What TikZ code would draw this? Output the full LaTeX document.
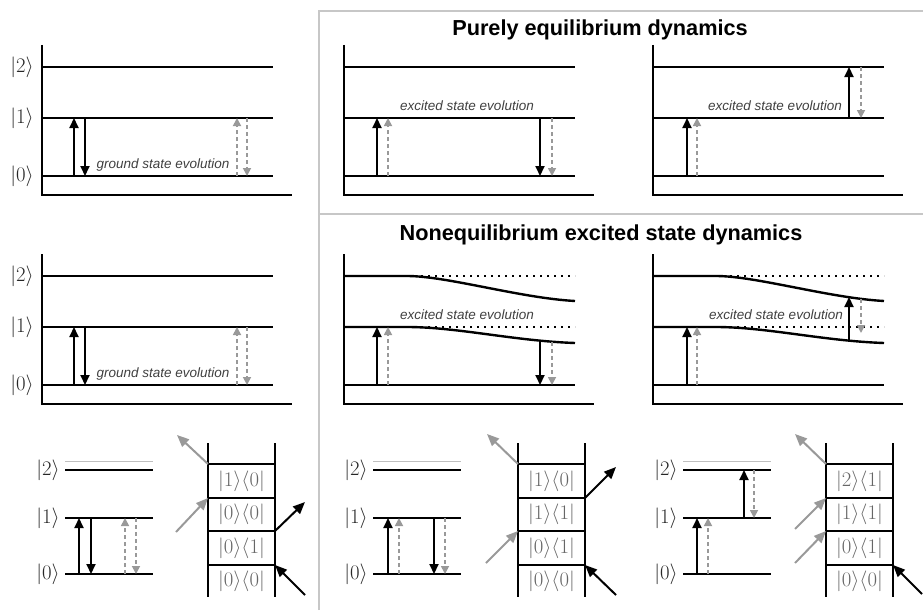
\documentclass[tikz,border=0pt]{standalone}
\usepackage{fontspec}
\setsansfont{Liberation Sans}
\usetikzlibrary{positioning,arrows.meta,calc}

\begin{document}
\begin{tikzpicture}[
    x=1pt, y=-1pt,
    lvl/.style={line width=2.4pt},
    axisline/.style={line width=2.4pt},
    ghostlvl/.style={line width=1pt, draw=black!25},
    oldlvl/.style={line width=2pt, dash pattern=on 2pt off 5pt},
    jump/.style={-{Triangle[length=10pt,width=9pt]}, line width=2pt},
    ghost/.style={-{Triangle[length=8pt,width=8pt]}, line width=1.7pt, draw=black!40, dash pattern=on 4pt off 3pt},
    flow/.style={-{Triangle[length=12pt,width=10pt]}, line width=2pt},
    grflow/.style={flow, draw=black!40},
    rail/.style={line width=2.4pt},
    ket/.style={font=\fontsize{20}{24}\selectfont, text=black!85, anchor=east, inner sep=0pt},
    cell/.style={font=\fontsize{20}{24}\selectfont, text=black!60, inner sep=0pt},
    evo/.style={font=\sffamily\itshape\fontsize{13.5}{16}\selectfont, text=black!75, inner sep=0pt},
    ttl/.style={font=\sffamily\bfseries\fontsize{21.7}{26}\selectfont, inner sep=0pt},
    boxline/.style={draw=black!22, line width=2pt}
]
\useasboundingbox (0,0) rectangle (923,610);

% Frame round the two right-hand rows
\coordinate (fBL) at (319,610);
\coordinate (fTL) at (319,11);
\coordinate (fTR) at (923,11);
\coordinate (fML) at (319,214);
\coordinate (fMR) at (923,214);
\draw[boxline] (fBL) -- (fTL) -- (fTR);
\draw[boxline] (fML) -- (fMR);

% Titles
\node[ttl] (ttlEq) at (600,30) {Purely equilibrium dynamics};
\node[ttl] (ttlNeq) at (601,235) {Nonequilibrium excited state dynamics};

% Axes and ground level, six panels
\foreach \nm/\px/\py in {A/42/0, B/42/209, C/344/0, D/653/0, E/344/209, F/653/209}{
    \coordinate (\nm0) at (\px,176+\py);
    \coordinate (\nm1) at (\px,118+\py);
    \coordinate (\nm2) at (\px,67+\py);
    \draw[axisline] (\px,45+\py) -- (\px,195+\py) -- (\px+250,195+\py);
    \draw[lvl] (\nm0) -- ++(231,0);
}

% Unshifted levels
\foreach \nm in {A,B,C,D}{
    \draw[lvl] (\nm1) -- ++(231,0);
    \draw[lvl] (\nm2) -- ++(231,0);
}

% Shifted levels, old position dotted
\foreach \nm in {E,F}{
    \draw[oldlvl] ([xshift=63pt]\nm2) -- ++(168,0);
    \draw[oldlvl] ([xshift=63pt]\nm1) -- ++(168,0);
    \draw[lvl] (\nm2) -- ++(63,0) .. controls +(40,0) and +(-55,-3) .. ++(168,25);
    \draw[lvl] (\nm1) -- ++(63,0) .. controls +(50,0) and +(-60,-2) .. ++(168,16);
}

% Kets, left column
\foreach \nm in {A,B}
    \foreach \k in {0,1,2}
        \node[ket] (k\nm\k) at ([xshift=-8pt]\nm\k) {$|\k\rangle$};

% Ground state evolution, left column
\foreach \nm/\py in {A/0, B/209}{
    \draw[jump] ([xshift=32pt]\nm0) -- ([xshift=32pt]\nm1);
    \draw[jump] ([xshift=43pt]\nm1) -- ([xshift=43pt]\nm0);
    \draw[ghost] ([xshift=195pt]\nm0) -- ([xshift=195pt]\nm1);
    \draw[ghost] ([xshift=205pt]\nm1) -- ([xshift=205pt]\nm0);
    \node[evo] (evo\nm) at (163,165+\py) {ground state evolution};
}

% Excited state evolution, top row
\draw[jump] ([xshift=33pt]C0) -- ([xshift=33pt]C1);
\draw[ghost] ([xshift=44pt]C0) -- ([xshift=44pt]C1);
\draw[jump] ([xshift=196pt]C1) -- ([xshift=196pt]C0);
\draw[ghost] ([xshift=208pt]C1) -- ([xshift=208pt]C0);
\node[evo] (evoC) at (467,106) {excited state evolution};

\draw[jump] ([xshift=34pt]D0) -- ([xshift=34pt]D1);
\draw[ghost] ([xshift=44pt]D0) -- ([xshift=44pt]D1);
\draw[jump] ([xshift=196pt]D1) -- ([xshift=196pt]D2);
\draw[ghost] ([xshift=208pt]D2) -- ([xshift=208pt]D1);
\node[evo] (evoD) at (775,106) {excited state evolution};

% Excited state evolution, middle row
\coordinate (E1c) at (540,341);
\coordinate (E1g) at (552,342);
\coordinate (F1c) at (849,341);
\coordinate (F2c) at (849,297);
\coordinate (F2g) at (861,299);
\coordinate (F1g) at (861,333);
\draw[jump] ([xshift=33pt]E0) -- ([xshift=33pt]E1);
\draw[ghost] ([xshift=44pt]E0) -- ([xshift=44pt]E1);
\draw[jump] (E1c) -- (E1c |- E0);
\draw[ghost] (E1g) -- (E1g |- E0);
\node[evo] (evoE) at (467,315) {excited state evolution};

\draw[jump] ([xshift=34pt]F0) -- ([xshift=34pt]F1);
\draw[ghost] ([xshift=44pt]F0) -- ([xshift=44pt]F1);
\draw[jump] (F1c) -- (F2c);
\draw[ghost] (F2g) -- (F1g);
\node[evo] (evoF) at (776,315) {excited state evolution};

% Bottom row: level schemes
\foreach \nm/\px in {G/65, H/373, I/683}{
    \coordinate (\nm0) at (\px,574);
    \coordinate (\nm1) at (\px,518);
    \coordinate (\nm2) at (\px,470);
    \draw[ghostlvl] (\px,461) -- ++(88,0);
    \foreach \k in {0,1,2}{
        \draw[lvl] (\nm\k) -- ++(88,0);
        \node[ket] (k\nm\k) at ([xshift=-5pt]\nm\k) {$|\k\rangle$};
    }
}

\draw[jump] ([xshift=14pt]G0) -- ([xshift=14pt]G1);
\draw[jump] ([xshift=26pt]G1) -- ([xshift=26pt]G0);
\draw[ghost] ([xshift=60pt]G0) -- ([xshift=60pt]G1);
\draw[ghost] ([xshift=71pt]G1) -- ([xshift=71pt]G0);

\draw[jump] ([xshift=15pt]H0) -- ([xshift=15pt]H1);
\draw[ghost] ([xshift=26pt]H0) -- ([xshift=26pt]H1);
\draw[jump] ([xshift=61pt]H1) -- ([xshift=61pt]H0);
\draw[ghost] ([xshift=72pt]H1) -- ([xshift=72pt]H0);

\draw[jump] ([xshift=14pt]I0) -- ([xshift=14pt]I1);
\draw[ghost] ([xshift=25pt]I0) -- ([xshift=25pt]I1);
\draw[jump] ([xshift=61pt]I1) -- ([xshift=61pt]I2);
\draw[ghost] ([xshift=71pt]I2) -- ([xshift=71pt]I1);

% Bottom row: ladders
\foreach \nm/\lx in {G/208, H/518, I/826}{
    \draw[rail] (\lx,443) -- (\lx,597);
    \draw[rail] (\lx+67,443) -- (\lx+67,597);
    \foreach \r/\ry in {1/464, 2/498, 3/531, 4/565}{
        \coordinate (\nm-a\r) at (\lx,\ry);
        \coordinate (\nm-b\r) at (\lx+67,\ry);
        \draw[rail] (\nm-a\r) -- (\nm-b\r);
    }
}

\node[cell] (cG1) at (241.5,481) {$|1\rangle\langle0|$};
\node[cell] (cG2) at (241.5,514.5) {$|0\rangle\langle0|$};
\node[cell] (cG3) at (241.5,548) {$|0\rangle\langle1|$};
\node[cell] (cG4) at (241.5,581) {$|0\rangle\langle0|$};

\node[cell] (cH1) at (551.5,481) {$|1\rangle\langle0|$};
\node[cell] (cH2) at (551.5,514.5) {$|1\rangle\langle1|$};
\node[cell] (cH3) at (551.5,548) {$|0\rangle\langle1|$};
\node[cell] (cH4) at (551.5,581) {$|0\rangle\langle0|$};

\node[cell] (cI1) at (859.5,481) {$|2\rangle\langle1|$};
\node[cell] (cI2) at (859.5,514.5) {$|1\rangle\langle1|$};
\node[cell] (cI3) at (859.5,548) {$|0\rangle\langle1|$};
\node[cell] (cI4) at (859.5,581) {$|0\rangle\langle0|$};

% Ladder arrows
\coordinate[above left=29pt and 31pt of G-a1] (G-o1);
\coordinate[below left=34pt and 32pt of G-a2] (G-i2);
\coordinate[above right=29pt and 30pt of G-b3] (G-o3);
\coordinate[below right=30pt and 30pt of G-b4] (G-i4);
\draw[grflow] (G-a1) -- (G-o1);
\draw[grflow] (G-i2) -- (G-a2);
\draw[flow] (G-b3) -- (G-o3);
\draw[flow] (G-i4) -- (G-b4);

\coordinate[above left=30pt and 31pt of H-a1] (H-o1);
\coordinate[above right=31pt and 31pt of H-b2] (H-o2);
\coordinate[below left=32pt and 32pt of H-a3] (H-i3);
\coordinate[below right=30pt and 31pt of H-b4] (H-i4);
\draw[grflow] (H-a1) -- (H-o1);
\draw[flow] (H-b2) -- (H-o2);
\draw[grflow] (H-i3) -- (H-a3);
\draw[flow] (H-i4) -- (H-b4);

\coordinate[above left=30pt and 31pt of I-a1] (I-o1);
\coordinate[below left=31pt and 31pt of I-a2] (I-i2);
\coordinate[below left=32pt and 31pt of I-a3] (I-i3);
\coordinate[below right=29pt and 29pt of I-b4] (I-i4);
\draw[grflow] (I-a1) -- (I-o1);
\draw[grflow] (I-i2) -- (I-a2);
\draw[grflow] (I-i3) -- (I-a3);
\draw[flow] (I-i4) -- (I-b4);

\end{tikzpicture}
\end{document}
